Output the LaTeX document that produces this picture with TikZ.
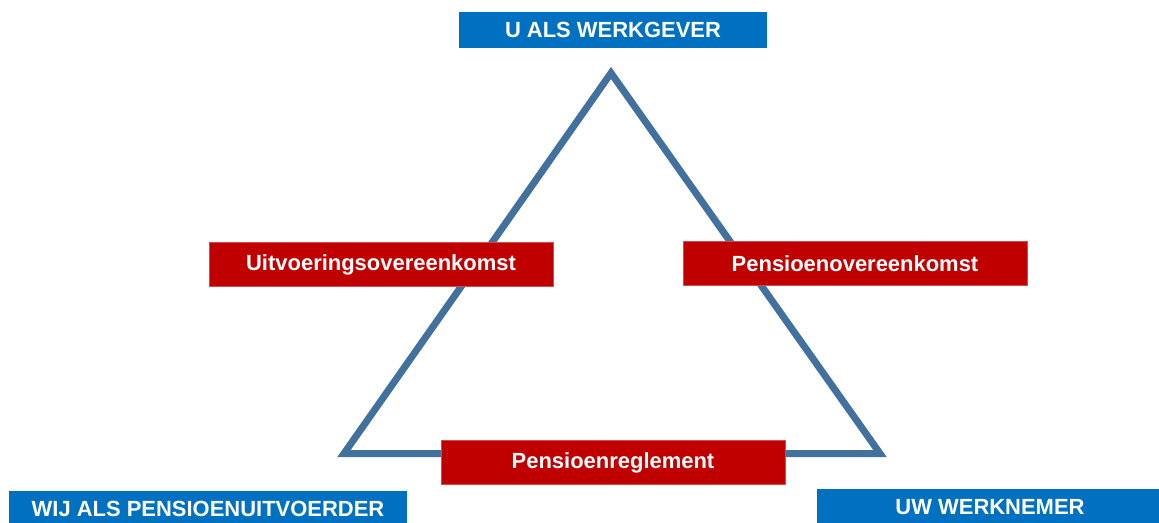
\documentclass[tikz,border=0pt]{standalone}
\usepackage{xcolor}
\usepackage{fontspec}
\setmainfont{Liberation Sans}
\usepackage{tikz}
\usetikzlibrary{positioning,calc}

\definecolor{partyblue}{HTML}{0070C0}
\definecolor{docred}{HTML}{C00000}
\definecolor{lineblue}{HTML}{41719C}

\tikzset{
    party/.style={fill=partyblue, text=white, font=\bfseries\fontsize{12.5}{15}\selectfont,
        minimum height=0.72cm, inner sep=0pt},
    doc/.style={fill=docred, draw=docred!70!white, line width=0.3pt, text=white,
        font=\bfseries\fontsize{12.5}{15}\selectfont,
        minimum width=6.88cm, minimum height=0.88cm, inner sep=0pt}
}

\begin{document}
\begin{tikzpicture}[x=0.02cm, y=-0.02cm]
    \useasboundingbox (0,0) rectangle (1159,522);
    \clip (0,0) rectangle (1159,522);

    % corners of the triangle
    \coordinate (top) at (611,73);
    \coordinate (left) at (344,453.5);
    \coordinate (right) at (880,453.5);
    \draw[lineblue, line width=0.14cm, line join=miter] (top) -- (right) -- (left) -- cycle;

    \node[party, minimum width=6.16cm] (werkgever) at (613,29.5) {U ALS WERKGEVER};
    \node[party, minimum width=7.96cm] (uitvoerder) at (208,509) {WIJ ALS PENSIOENUITVOERDER};
    \node[party, minimum width=6.92cm] (werknemer) at (990,507) {UW WERKNEMER};

    \node[doc] (uitvoering) at (381,264.5) {Uitvoeringsovereenkomst};
    \node[doc] (pensioenovk) at (855,263.5) {Pensioenovereenkomst};
    \node[doc] (reglement) at (613,462.5) {Pensioenreglement};
\end{tikzpicture}
\end{document}
